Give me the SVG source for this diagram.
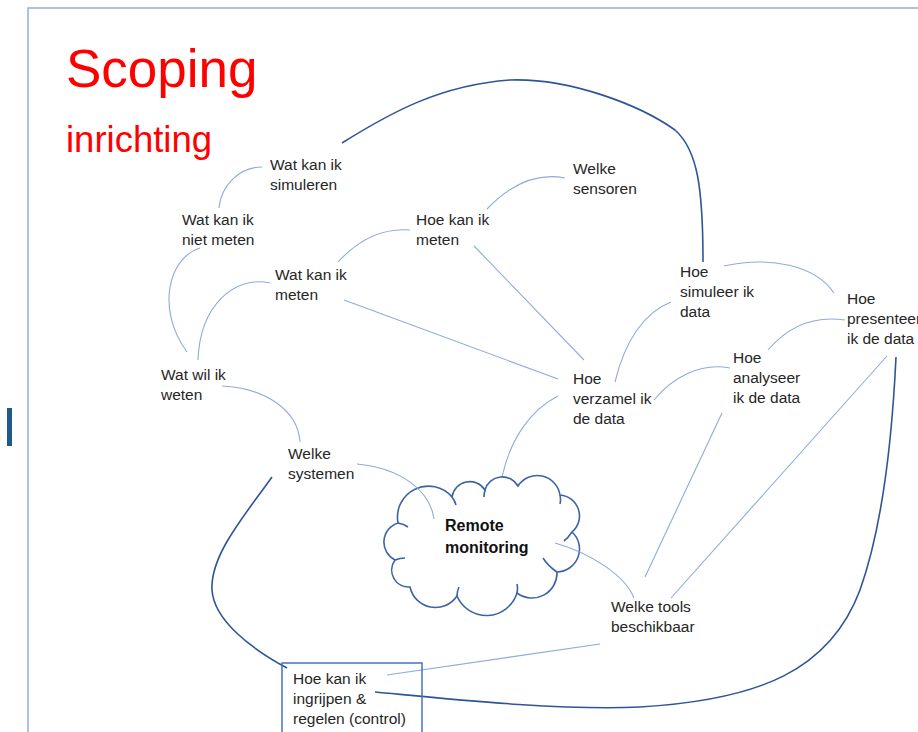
<svg xmlns="http://www.w3.org/2000/svg" width="918" height="732" viewBox="0 0 918 732">
<style>
.t{font-family:"Liberation Sans",Arial,sans-serif;font-size:15.5px;fill:#262626}
.b{font-family:"Liberation Sans",Arial,sans-serif;font-size:16px;font-weight:bold;fill:#111}
.lt{fill:none;stroke:#8faadc;stroke-width:1.1}
.dk{fill:none;stroke:#2f5597;stroke-width:1.6}
.cl{fill:#fff;stroke:#3c64a4;stroke-width:1.6}
.ti{font-family:"Liberation Sans",Arial,sans-serif;fill:#ff0000}
</style>
<rect x="0" y="0" width="918" height="732" fill="#fff"/>
<rect x="28" y="8" width="900" height="740" fill="none" stroke="#8eb0d8" stroke-width="1.5"/>
<rect x="7" y="408" width="5" height="38" fill="#1f5a8c"/>
<text class="ti" x="66" y="87" font-size="53">Scoping</text>
<text class="ti" x="66" y="152" font-size="36.5">inrichting</text>

<g id="connectors">
<path class="lt" d="M262,167 C240,167 221,185 219,208"/>
<path class="lt" d="M200,248 C168,258 156,310 187,352"/>
<path class="lt" d="M270,283 C235,275 200,305 198,360"/>
<path class="lt" d="M338,262 C360,238 385,228 410,230"/>
<path class="lt" d="M487,209 C510,185 535,172 565,178"/>
<path class="lt" d="M344,300 L558,379"/>
<path class="lt" d="M474,246 L584,360"/>
<path class="lt" d="M615,382 C625,340 645,312 671,302"/>
<path class="lt" d="M654,400 C672,378 700,362 730,368"/>
<path class="lt" d="M724,266 C770,256 815,265 834,293"/>
<path class="lt" d="M768,350 C785,330 810,315 845,320"/>
<path class="lt" d="M558,396 C530,410 510,440 502,477"/>
<path class="lt" d="M222,386 C265,388 298,410 300,442"/>
<path class="lt" d="M722,413 L645,577"/>
<path class="lt" d="M887,356 L671,598"/>
<path class="lt" d="M600,644 L387,675"/>
<path class="dk" d="M342,143 C390,113 440,85 510,80 C570,78 640,105 675,130 C698,150 703,190 703,262"/>
<path class="dk" d="M272,477 C245,515 210,555 212,590 C214,620 250,648 287,668"/>
<path class="dk" d="M896,357 C893,420 885,520 860,590 C830,670 760,700 640,707 C560,711 440,698 375,692"/>
</g>

<g id="remote-monitoring">
<path class="cl" d="M398,523 A31,31 0 0 1 452,497 A18,18 0 0 1 485,490 A18,18 0 0 1 518,486 A23,23 0 0 1 560,495 A21,21 0 0 1 572,532 A23,23 0 0 1 557,572 A25,25 0 0 1 517,593 A32,32 0 0 1 457,596 A26,26 0 0 1 410,587 A17,17 0 0 1 395,560 A20,20 0 0 1 398,523 Z"/>
<path class="cl" fill="none" d="M398,523 Q404,524 408,527 M452,497 Q455,501 456,505 M485,490 Q484,494 484,497 M560,495 Q561,500 560,504 M572,532 Q568,538 564,541 M557,572 Q548,566 543,558 M517,593 Q518,588 517,584 M457,596 Q457,591 459,587 M395,560 Q400,558 405,558"/>
<path class="lt" d="M357,464 C400,468 430,490 434,519"/>
<path class="lt" d="M555,543 C590,553 625,575 634,598"/>
<text class="b" x="445" y="531">Remote</text>
<text class="b" x="445" y="553">monitoring</text>
</g>

<g id="wat-kan-ik-simuleren"><text class="t" x="270" y="170">Wat kan ik</text><text class="t" x="270" y="190">simuleren</text></g>
<g id="wat-kan-ik-niet-meten"><text class="t" x="182" y="225">Wat kan ik</text><text class="t" x="182" y="245">niet meten</text></g>
<g id="hoe-kan-ik-meten"><text class="t" x="416" y="225">Hoe kan ik</text><text class="t" x="416" y="245">meten</text></g>
<g id="welke-sensoren"><text class="t" x="573" y="174">Welke</text><text class="t" x="573" y="194">sensoren</text></g>
<g id="wat-kan-ik-meten"><text class="t" x="275" y="280">Wat kan ik</text><text class="t" x="275" y="300">meten</text></g>
<g id="wat-wil-ik-weten"><text class="t" x="161" y="380">Wat wil ik</text><text class="t" x="161" y="400">weten</text></g>
<g id="welke-systemen"><text class="t" x="288" y="459">Welke</text><text class="t" x="288" y="479">systemen</text></g>
<g id="hoe-verzamel"><text class="t" x="573" y="384">Hoe</text><text class="t" x="573" y="404">verzamel ik</text><text class="t" x="573" y="424">de data</text></g>
<g id="hoe-simuleer"><text class="t" x="680" y="277">Hoe</text><text class="t" x="680" y="297">simuleer ik</text><text class="t" x="680" y="317">data</text></g>
<g id="hoe-analyseer"><text class="t" x="733" y="363">Hoe</text><text class="t" x="733" y="383">analyseer</text><text class="t" x="733" y="403">ik de data</text></g>
<g id="hoe-presenteer"><text class="t" x="847" y="304">Hoe</text><text class="t" x="847" y="324">presenteer</text><text class="t" x="847" y="344">ik de data</text></g>
<g id="welke-tools"><text class="t" x="611" y="612">Welke tools</text><text class="t" x="611" y="632">beschikbaar</text></g>
<g id="hoe-kan-ik-ingrijpen">
<rect x="282" y="663" width="140" height="80" fill="none" stroke="#4472c4" stroke-width="1.5"/>
<text class="t" x="293" y="684">Hoe kan ik</text><text class="t" x="293" y="704">ingrijpen &amp;</text><text class="t" x="293" y="724">regelen (control)</text>
</g>
</svg>
